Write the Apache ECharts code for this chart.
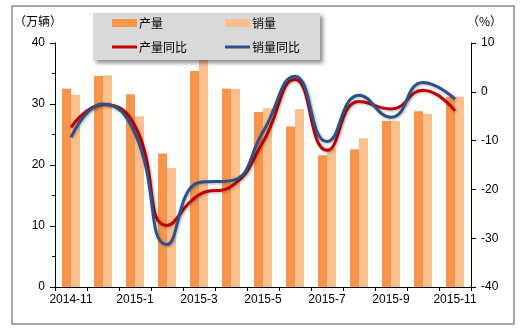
<!DOCTYPE html>
<html>
<head>
<meta charset="utf-8">
<script src="https://cdn.jsdelivr.net/npm/echarts@6/dist/echarts.min.js"></script>
<style>
html,body{margin:0;padding:0;background:#fff;}
#c{width:523px;height:333px;}
</style>
</head>
<body>
<div id="c"></div>
<script>
var months = ['2014-11','2014-12','2015-1','2015-2','2015-3','2015-4','2015-5','2015-6','2015-7','2015-8','2015-9','2015-10','2015-11'];
var production = [32.5, 34.6, 31.6, 21.9, 35.4, 32.5, 28.7, 26.3, 21.6, 22.6, 27.2, 28.8, 31.2];
var sales = [31.5, 34.7, 28.0, 19.5, 37.5, 32.5, 29.3, 29.2, 22.8, 24.4, 27.2, 28.4, 31.2];
var prodYoY = [-7.3, -2.6, -7.0, -27.4, -21.1, -19.4, -10.3, 2.5, -12.0, -2.0, -3.5, 0.3, -3.9];
var salesYoY = [-9.3, -2.5, -8.5, -31.3, -18.6, -18.2, -8.2, 3.2, -10.2, -0.7, -5.2, 1.9, -1.5];
var leftTicks = [0, 10, 20, 30, 40];
var rightTicks = [-40, -30, -20, -10, 0, 10];

var cjk = '"Noto Sans CJK SC", sans-serif';
var latin = '"Liberation Sans", Arial, sans-serif';
var colProd = '#f7964a';
var colSales = '#fac08f';
var colRed = '#c00000';
var colBlue = '#2a5288';

var chart = echarts.init(document.getElementById('c'));
function legendItem(name, left, top, h, color) {
  return {
    show: true, z: 100, left: left, top: top,
    itemWidth: 25, itemHeight: h, itemGap: 0,
    icon: 'rect', selectedMode: false,
    data: [{name: name, icon: 'rect', itemStyle: {color: color, borderWidth: 0}, lineStyle: {width: 0}}],
    textStyle: {fontFamily: cjk, fontSize: 12, color: '#000', padding: [0, 0, 0, -3]},
    padding: 0
  };
}
chart.setOption({
  animation: false,
  backgroundColor: '#fff',
  grid: {left: 55, right: 52, top: 43, bottom: 46},
  legend: [
    legendItem('产量', 112, 17, 8, colProd),
    legendItem('销量', 225, 17, 8, colSales),
    legendItem('产量同比', 112, 41, 3, colRed),
    legendItem('销量同比', 225, 41, 3, colBlue)
  ],
  graphic: [
    {type: 'rect', z: 50, shape: {x: 12, y: 6, width: 502, height: 318}, style: {fill: 'none', stroke: '#8a8a8a', lineWidth: 1.5}},
    {type: 'rect', z: 60, shape: {x: 93, y: 13, width: 227, height: 47},
     style: {fill: '#d9d9d9', shadowBlur: 4, shadowOffsetX: 3, shadowOffsetY: 3, shadowColor: 'rgba(0,0,0,0.45)'}},
    {type: 'text', z: 60, left: 14, top: 15, style: {text: '（万辆）', fontFamily: cjk, fontSize: 12, fill: '#000'}},
    {type: 'text', z: 60, left: 467, top: 15, style: {text: '（%）', fontFamily: cjk, fontSize: 12, fill: '#000'}}
  ],
  xAxis: {
    type: 'category', data: months, boundaryGap: true,
    axisLine: {lineStyle: {color: '#000', width: 1}},
    axisTick: {show: true, interval: 0, length: 4, lineStyle: {color: '#000'}},
    axisLabel: {interval: 1, fontFamily: latin, fontSize: 12, color: '#000', margin: 7}
  },
  yAxis: [
    {type: 'value', min: leftTicks[0], max: leftTicks[leftTicks.length - 1], interval: 10,
     axisLine: {show: true, lineStyle: {color: '#000'}},
     axisTick: {show: true, length: 5, lineStyle: {color: '#000'}},
     minorTick: {show: true, splitNumber: 2, length: 3, lineStyle: {color: '#000'}},
     splitLine: {show: false},
     axisLabel: {fontFamily: latin, fontSize: 12, color: '#000', margin: 10}},
    {type: 'value', min: rightTicks[0], max: rightTicks[rightTicks.length - 1], interval: 10, position: 'right',
     axisLine: {show: true, lineStyle: {color: '#000'}},
     axisTick: {show: true, length: 5, lineStyle: {color: '#000'}},
     splitLine: {show: false},
     axisLabel: {fontFamily: latin, fontSize: 12, color: '#000', margin: 10}}
  ],
  series: [
    {name: '产量', type: 'bar', data: production, barWidth: 9, barGap: '0%', itemStyle: {color: colProd}},
    {name: '销量', type: 'bar', data: sales, barWidth: 9, barGap: '0%', itemStyle: {color: colSales}},
    {name: '产量同比', type: 'line', yAxisIndex: 1, data: prodYoY, smooth: 0.5, symbol: 'none', z: 5,
     lineStyle: {color: colRed, width: 3, shadowColor: 'rgba(0,0,0,0.3)', shadowBlur: 3, shadowOffsetX: 1, shadowOffsetY: 1},
     itemStyle: {color: colRed}},
    {name: '销量同比', type: 'line', yAxisIndex: 1, data: salesYoY, smooth: 0.5, symbol: 'none', z: 6,
     lineStyle: {color: colBlue, width: 3, shadowColor: 'rgba(0,0,0,0.3)', shadowBlur: 3, shadowOffsetX: 1, shadowOffsetY: 1},
     itemStyle: {color: colBlue}}
  ]
});
</script>
</body>
</html>
